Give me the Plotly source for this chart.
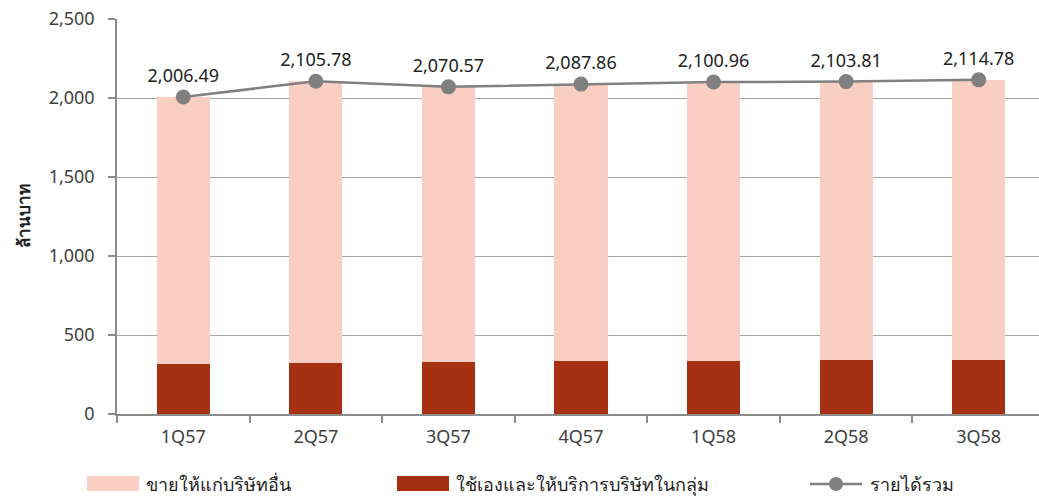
import plotly.graph_objects as go

quarters = ["1Q57", "2Q57", "3Q57", "4Q57", "1Q58", "2Q58", "3Q58"]
total_revenue = [2006.49, 2105.78, 2070.57, 2087.86, 2100.96, 2103.81, 2114.78]
internal_use = [316, 323, 328, 334, 337, 339, 342]
external_sales = [round(t - i, 2) for t, i in zip(total_revenue, internal_use)]

name_external = "ขายให้แก่บริษัทอื่น"
name_internal = "ใช้เองและให้บริการบริษัทในกลุ่ม"
name_total = "รายได้รวม"

c_light = "#f9cfc3"
c_dark = "#a63012"
c_line = "#808080"
font_family = "Noto Sans, Tahoma, sans-serif"

fig = go.Figure()
fig.add_trace(go.Bar(x=quarters, y=internal_use, name=name_internal,
                     marker=dict(color=c_dark, line=dict(width=0)), width=0.4))
fig.add_trace(go.Bar(x=quarters, y=external_sales, name=name_external,
                     marker=dict(color=c_light, line=dict(width=0)), width=0.4))
fig.add_trace(go.Scatter(x=quarters, y=total_revenue, name=name_total,
                         mode="lines+markers+text",
                         line=dict(color=c_line, width=2.5),
                         marker=dict(color=c_line, size=15),
                         text=[f"{v:,.2f}" for v in total_revenue],
                         textposition="top center",
                         textfont=dict(size=18, color="#222222", family=font_family)))

fig.update_layout(
    barmode="stack",
    width=1039, height=496,
    margin=dict(l=117, r=0, t=19, b=82),
    paper_bgcolor="white", plot_bgcolor="white",
    showlegend=False,
    font=dict(family=font_family, size=18, color="#404040"),
)
fig.update_xaxes(range=[-0.5, 6.455], tickson="boundaries", ticks="outside",
                 ticklen=7, tickcolor="#8c8c8c", tickwidth=1.5,
                 showline=True, linecolor="#8c8c8c", linewidth=1.5,
                 showgrid=False, ticklabelstandoff=6,
                 tickfont=dict(size=18, color="#404040"))
fig.update_yaxes(range=[0, 2500], dtick=500, tickformat=",",
                 ticks="outside", ticklen=7, tickcolor="#8c8c8c", tickwidth=1.5,
                 showline=True, linecolor="#8c8c8c", linewidth=1.5,
                 showgrid=True, gridcolor="#a6a6a6", gridwidth=1,
                 zeroline=False, ticklabelstandoff=10,
                 tickfont=dict(size=18, color="#404040"),
                 title=dict(text="<b>ล้านบาท</b>", font=dict(size=17, color="#222222"),
                            standoff=14))

# legend drawn along the bottom (paper coords relative to the plot area)
PLOT_L, PLOT_W = 117, 922
PLOT_B, PLOT_H = 414, 395

def px(v):
    return (v - PLOT_L) / PLOT_W

def py(v):
    return (PLOT_B - v) / PLOT_H

leg_y0, leg_y1, leg_mid = 476, 491, 484
fig.add_shape(type="rect", xref="paper", yref="paper",
              x0=px(87), x1=px(139), y0=py(leg_y1), y1=py(leg_y0),
              fillcolor=c_light, line=dict(width=0))
fig.add_shape(type="rect", xref="paper", yref="paper",
              x0=px(397), x1=px(449), y0=py(leg_y1), y1=py(leg_y0),
              fillcolor=c_dark, line=dict(width=0))
fig.add_shape(type="line", xref="paper", yref="paper",
              x0=px(810), x1=px(862), y0=py(leg_mid), y1=py(leg_mid),
              line=dict(color=c_line, width=2.5))
fig.add_shape(type="circle", xref="paper", yref="paper",
              x0=px(829), x1=px(843), y0=py(491), y1=py(477),
              fillcolor=c_line, line=dict(width=0))
for x, label in [(144, name_external), (454, name_internal), (868, name_total)]:
    fig.add_annotation(xref="paper", yref="paper", x=px(x), y=py(leg_mid),
                       text=label, showarrow=False, xanchor="left", yanchor="middle",
                       font=dict(size=18, color="#222222", family=font_family))

fig.write_html("out.html")
